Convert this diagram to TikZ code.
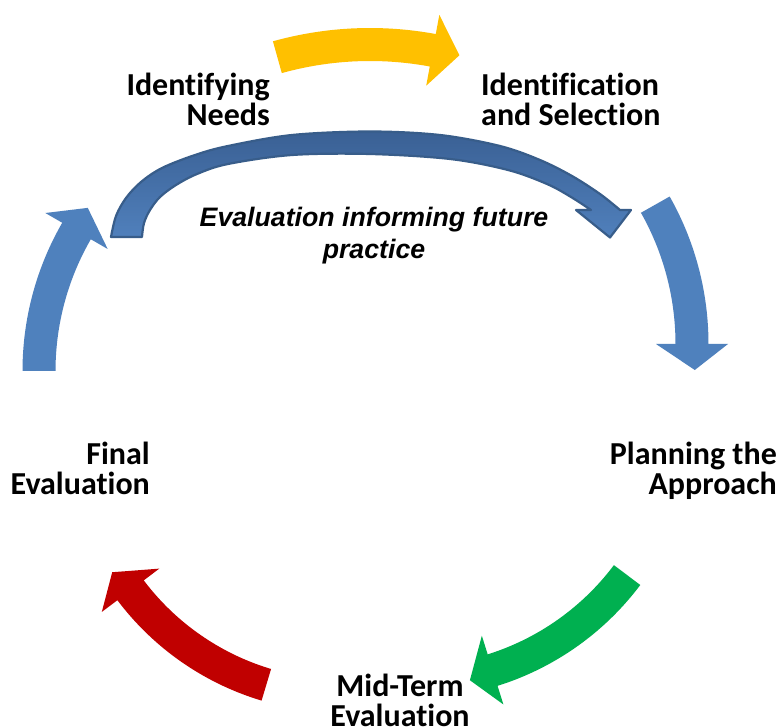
\documentclass[tikz,border=0pt]{standalone}
\usepackage{fontspec}
\usetikzlibrary{calc}
\newfontfamily\calibrifont{Carlito}[Ligatures=NoCommon]
\newfontfamily\arialfont{Liberation Sans}
\definecolor{cyyellow}{RGB}{255,192,0}
\definecolor{cyblue}{RGB}{79,129,189}
\definecolor{cygreen}{RGB}{0,176,80}
\definecolor{cyred}{RGB}{192,0,0}
\definecolor{darkedge}{RGB}{56,93,138}
\definecolor{darktop}{RGB}{58,96,148}
\definecolor{darkbottom}{RGB}{80,128,188}
% #1 colour, #2 cx, #3 cy, #4 r, #5 tail angle, #6 head-base angle, #7 tip angle, #8 tip radius offset
\newcommand{\cycarrow}[8]{%
  \pgfmathsetmacro{\ro}{#4+16.5}%
  \pgfmathsetmacro{\ri}{#4-16.5}%
  \pgfmathsetmacro{\rbo}{#4+36}%
  \pgfmathsetmacro{\rbi}{#4-36}%
  \pgfmathsetmacro{\rt}{#4+#8}%
  \fill[#1] plot[domain=#5:#6, samples=40] ({#2+\ro*cos(\x)},{#3+\ro*sin(\x)})
    -- ({#2+\rbo*cos(#6)},{#3+\rbo*sin(#6)})
    -- ({#2+\rt*cos(#7)},{#3+\rt*sin(#7)})
    -- ({#2+\rbi*cos(#6)},{#3+\rbi*sin(#6)})
    -- plot[domain=#6:#5, samples=40] ({#2+\ri*cos(\x)},{#3+\ri*sin(\x)}) -- cycle;}
\tikzset{
  lab/.style={inner sep=0pt, text=black, font={\calibrifont\bfseries\fontsize{32}{30}\selectfont}},
  evallab/.style={inner sep=0pt, text=black, align=center, font={\arialfont\bfseries\itshape\fontsize{26.7}{32}\selectfont}},
  darkarrow/.style={draw=darkedge, line width=2.2pt, line join=round, top color=darktop, bottom color=darkbottom}
}
\begin{document}
\begin{tikzpicture}[x=1pt, y=-1pt]
\fill[white] (0,0) rectangle (780,727);
\useasboundingbox (0,0) rectangle (780,727);

% cycle arrows
\cycarrow{cyyellow}{370}{389}{344.5}{254.4}{280.5}{285}{1}
\cycarrow{cyblue}{409}{344}{283}{-29.5}{0}{5.2}{4}
\cycarrow{cygreen}{412.3}{413.8}{268.6}{36.9}{72.6}{77.8}{4}
\cycarrow{cyred}{342.6}{430.5}{265.5}{106.7}{143}{148.4}{5}
\cycarrow{cyblue}{319}{371}{280}{180}{210}{215.2}{3}

% feedback arrow
\path[darkarrow]
  plot[smooth, tension=0.55] coordinates {(111,237) (116,216) (126,198) (141,182) (162,168) (195,155) (228,146) (292,135) (370,131.5) (440,135) (500,146) (540,160) (572,176) (600,194) (620,210)}
  -- (631,210) -- (610,237.5) -- (576,210) -- (591,210)
  -- plot[smooth, tension=0.55] coordinates {(591,210) (571,197) (547,184) (508,170) (450,159) (370,154) (292,155) (228,164) (197,174) (176,185) (160,197) (150,210) (144,223) (142,237)}
  -- cycle;

% labels
\node[lab, anchor=base east, align=right] (needs) at (270,126) {Identifying\\Needs};
\node[lab, anchor=base west, align=left] (select) at (481,126) {Identification\\and Selection};
\node[lab, anchor=base east, align=right] (plan) at (777,495) {Planning the\\Approach};
\node[lab, anchor=base, align=center] (mid) at (400,726) {Mid-Term\\Evaluation};
\node[lab, anchor=base east, align=right] (final) at (150,495) {Final\\Evaluation};
\node[evallab, anchor=base] (inform) at (374,259) {Evaluation informing future\\practice};
\end{tikzpicture}
\end{document}
